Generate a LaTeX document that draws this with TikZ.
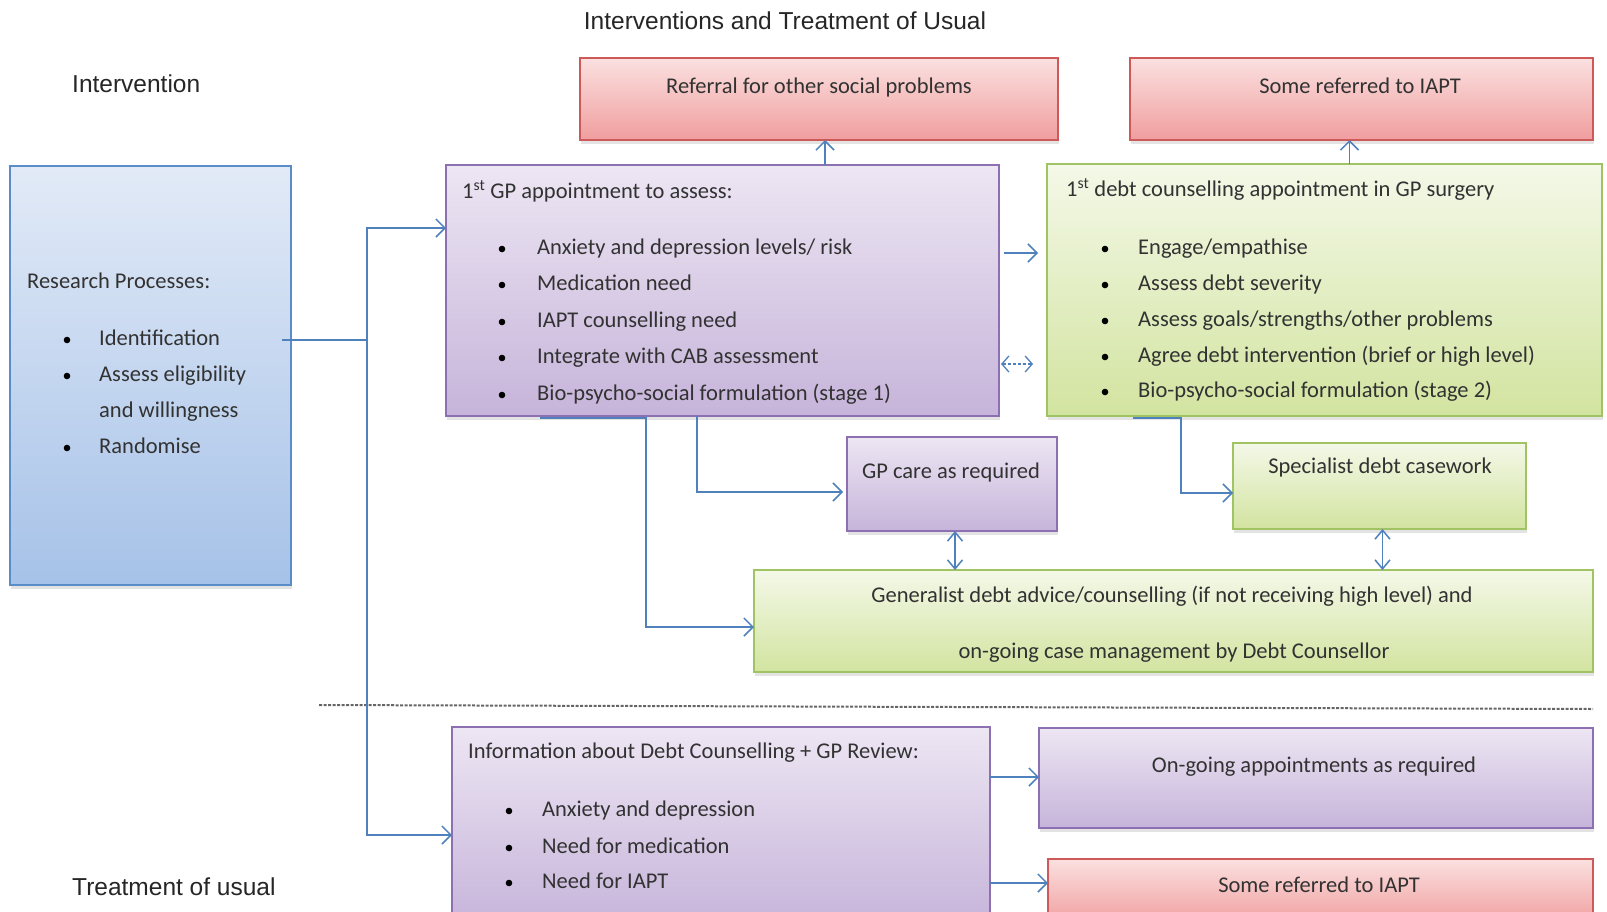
\documentclass[tikz,border=0pt]{standalone}
\usepackage{fontspec}
\setmainfont{Carlito}
\newfontfamily\headfont{Liberation Sans}
\usetikzlibrary{arrows.meta,shadows}
\definecolor{connblue}{RGB}{79,129,189}
\definecolor{purpleTop}{RGB}{237,230,243}
\definecolor{purpleBot}{RGB}{198,180,218}
\definecolor{purpleLine}{RGB}{140,112,178}
\definecolor{redTop}{RGB}{251,224,224}
\definecolor{redBot}{RGB}{240,158,158}
\definecolor{redLine}{RGB}{205,90,88}
\definecolor{greenTop}{RGB}{244,248,232}
\definecolor{greenBot}{RGB}{210,228,160}
\definecolor{greenLine}{RGB}{160,195,100}
\definecolor{blueTop}{RGB}{226,234,247}
\definecolor{blueBot}{RGB}{166,194,232}
\definecolor{blueLine}{RGB}{90,140,200}
\definecolor{txtgray}{RGB}{50,50,50}
\newcommand\itm[5]{%
  \fill[black] (#2,#4+2) circle (3.3pt);
  \node[txt] (#1) at (#3,#4) {#5};}
\begin{document}
\begin{tikzpicture}[x=1pt,y=-1pt,
  box/.style={rectangle, inner sep=0pt, outer sep=0pt, line width=1.5pt,
    drop shadow={opacity=0.22, shadow xshift=1pt, shadow yshift=-4pt}},
  purplebox/.style={box, draw=purpleLine, top color=purpleTop, bottom color=purpleBot},
  redbox/.style={box, draw=redLine, top color=redTop, bottom color=redBot},
  greenbox/.style={box, draw=greenLine, top color=greenTop, bottom color=greenBot},
  bluebox/.style={box, draw=blueLine, top color=blueTop, bottom color=blueBot},
  txt/.style={font=\fontsize{22.5}{27}\selectfont, text=txtgray, inner sep=0pt, anchor=base west, yshift=-7pt},
  ctxt/.style={txt, anchor=base},
  headtxt/.style={font=\headfont\fontsize{24.5}{28}\selectfont, text=black!85, inner sep=0pt},
  conn/.style={draw=connblue, line width=1.5pt},
  arr/.style={conn, -{Straight Barb[length=9pt,width=18pt,line width=1.5pt]}},
  darr/.style={conn, {Straight Barb[length=9pt,width=15pt,line width=1.5pt]}-{Straight Barb[length=9pt,width=15pt,line width=1.5pt]}}
]
\fill[white] (0,0) rectangle (1607,911);
\clip (0,0) rectangle (1607,911);

% titles
\node[headtxt] (title) at (785,21) {Interventions and Treatment of Usual};
\node[headtxt, anchor=west] (lblint) at (72,84) {Intervention};
\node[headtxt, anchor=west] (lbltau) at (72,887) {Treatment of usual};

% boxes
\node[bluebox, minimum width=281pt, minimum height=419pt] (blue) at (150.5,375.5) {};
\node[redbox, minimum width=478pt, minimum height=82pt] (red1) at (819,99) {};
\node[redbox, minimum width=463pt, minimum height=82pt] (red2) at (1361.5,99) {};
\node[purplebox, minimum width=553pt, minimum height=251pt] (gp) at (722.5,290.5) {};
\node[greenbox, minimum width=555pt, minimum height=252pt] (debt) at (1324.5,290) {};
\node[purplebox, minimum width=210pt, minimum height=94pt] (gpcare) at (952,484) {};
\node[greenbox, minimum width=293pt, minimum height=86pt] (spec) at (1379.5,486) {};
\node[greenbox, minimum width=839pt, minimum height=102pt] (gen) at (1173.5,621) {};
\node[purplebox, minimum width=538pt, minimum height=198pt] (info) at (721,826) {};
\node[purplebox, minimum width=554pt, minimum height=100pt] (ongoing) at (1316,778) {};
\node[redbox, minimum width=545pt, minimum height=66pt] (red3) at (1320.5,892) {};

% separator
\coordinate (sepL) at (319,705);
\coordinate (sepR) at (1593,709);
\draw[black!60, line width=2pt, dash pattern=on 3pt off 1.5pt] (sepL) -- (sepR);

% blue box text
\node[txt] (research) at (27,281) {Research Processes:};
\itm{rp1}{67}{99}{338}{Identification}
\itm{rp2}{67}{99}{374}{Assess eligibility}
\node[txt] (rp2b) at (99,410) {and willingness};
\itm{rp3}{67}{99}{446}{Randomise}

% red texts
\node[ctxt] (tred1) at (819,86) {Referral for other social problems};
\node[ctxt] (tred2) at (1360,86) {Some referred to IAPT};
\node[ctxt] (tred3) at (1319,885) {Some referred to IAPT};

% gp text
\node[txt] (gphead) at (462,191) {1\textsuperscript{st} GP appointment to assess:};
\itm{gp1}{502}{537}{247}{Anxiety and depression levels/ risk}
\itm{gp2}{502}{537}{283}{Medication need}
\itm{gp3}{502}{537}{320}{IAPT counselling need}
\itm{gp4}{502}{537}{356}{Integrate with CAB assessment}
\itm{gp5}{502}{537}{393}{Bio-psycho-social formulation (stage 1)}

% debt text
\node[txt] (debthead) at (1066,189) {1\textsuperscript{st} debt counselling appointment in GP surgery};
\itm{d1}{1105}{1138}{247}{Engage/empathise}
\itm{d2}{1105}{1138}{283}{Assess debt severity}
\itm{d3}{1105}{1138}{319}{Assess goals/strengths/other problems}
\itm{d4}{1105}{1138}{355}{Agree debt intervention (brief or high level)}
\itm{d5}{1105}{1138}{390}{Bio-psycho-social formulation (stage 2)}

% small boxes text
\node[ctxt] (tgpcare) at (951,471) {GP care as required};
\node[ctxt] (tspec) at (1380,466) {Specialist debt casework};
\node[ctxt] (tgen1) at (1172,595) {Generalist debt advice/counselling (if not receiving high level) and};
\node[ctxt] (tgen2) at (1174,651) {on-going case management by Debt Counsellor};
\node[ctxt] (tongoing) at (1314,765) {On-going appointments as required};

% info text
\node[txt] (infohead) at (468,751) {Information about Debt Counselling + GP Review:};
\itm{i1}{509}{542}{809}{Anxiety and depression}
\itm{i2}{509}{542}{846}{Need for medication}
\itm{i3}{509}{542}{881}{Need for IAPT}

% connectors
\coordinate (split) at (367,340);
\draw[conn] ([xshift=-9pt]blue.east |- split) -- (split);
\draw[arr] (split) |- (gp.west |- 0,228);
\draw[arr] (split) |- (info.west |- 0,835);

\draw[arr] ([xshift=6pt]red1.south |- gp.north) -- ([xshift=6pt]red1.south);
\draw[arr] ([xshift=-12pt]red2.south |- debt.north) -- ([xshift=-12pt]red2.south);

\draw[arr, shorten <=5pt, shorten >=9pt] (gp.east |- 0,253) -- (debt.west |- 0,253);
\draw[conn, line width=1.3pt, dash pattern=on 3pt off 2pt,
  {Straight Barb[length=7pt,width=16pt,line width=1.3pt]}-{Straight Barb[length=7pt,width=16pt,line width=1.3pt]},
  shorten <=2pt, shorten >=14pt] (gp.east |- 0,364) -- (debt.west |- 0,364);

\draw[arr] ([yshift=-2pt]gp.south -| 540,0) -- ([yshift=-2pt]gp.south -| 646,0) |- (gen.west |- 0,627);
\draw[arr] (gp.south -| 697,0) |- ([xshift=-4pt]gpcare.west |- 0,492);
\draw[arr] ([yshift=-2pt]debt.south -| 1133,0) -- ([yshift=-2pt]debt.south -| 1181,0) |- (spec.west |- 0,493);

\draw[darr] ([xshift=3pt]gpcare.south) -- ([xshift=3pt]gpcare.south |- gen.north);
\draw[darr] ([xshift=3pt]spec.south) -- ([xshift=3pt]spec.south |- gen.north);

\draw[arr] (info.east |- 0,777) -- (ongoing.west |- 0,777);
\draw[arr] (info.east |- 0,883) -- (red3.west |- 0,883);
\end{tikzpicture}
\end{document}
